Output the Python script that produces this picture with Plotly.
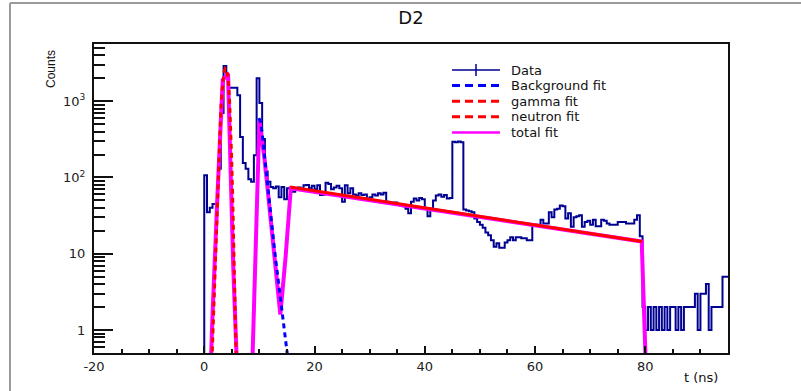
import numpy as np
import plotly.graph_objects as go

# ---------------- data ----------------
BIN_WIDTH = 0.5          # ns, histogram bin width; first bin starts at t = 0
counts = [
    107, 35, 40, 45, 45, 130, 700, 2900, 2200, 1500, 1500, 1500, 1200, 340, 155, 130, 95, 88, 195, 2000,
    950, 320, 120, 88, 75, 72, 76, 55, 75, 52, 72, 70, 65, 72, 74, 70, 79, 80, 72, 78,
    70, 79, 59, 60, 85, 82, 70, 74, 78, 72, 48, 79, 62, 72, 60, 58, 62, 59, 60, 53,
    55, 60, 58, 62, 60, 63, 48, 47, 45, 47, 44, 43, 42, 39, 34, 48, 53, 50, 54, 52,
    39, 31, 39, 50, 58, 60, 56, 59, 53, 54, 294, 290, 296, 290, 38, 37, 36, 35, 29, 26,
    24, 22, 19, 17.5, 15, 12.4, 13.7, 12, 12, 14, 15, 16.5, 15, 16.5, 16.5, 16, 16, 15, 15, 24,
    24, 24, 28, 25, 25, 35, 30, 38, 39, 43, 42, 29, 34, 22.6, 30, 31, 32, 22.6, 26, 27,
    24, 28, 23, 23, 28, 27, 25, 24, 24, 24, 26, 26, 26, 25, 25, 25, 28, 32, 17, 2,
    1, 2, 1, 2, 1, 2, 1, 2, 1, 2, 2, 1, 2, 1, 2, 2, 2, 2, 3, 1,
    3, 3, 4, 1, 2, 2, 2, 2, 5, 5,
]
ZERO_COUNT = 1e-3        # stand-in for an empty bin on the log axis

gamma_t = [1.4, 1.6, 1.8, 2.0, 2.2, 2.4, 2.6, 2.8, 3.0, 3.2, 3.4, 3.6, 3.8, 4.0, 4.2,
           4.4, 4.6, 4.8, 5.0, 5.2, 5.4, 5.6, 5.8]
gamma_v = [0.4, 1.0, 3, 10, 28, 70, 160, 380, 760, 1300, 1900, 2400, 2700, 2650, 2300,
           1700, 1000, 470, 150, 40, 9, 1.8, 0.4]

bg_t = [9.9, 10.2, 10.5, 10.8, 11.1, 11.4, 11.7, 12.0, 12.3, 12.6, 12.9, 13.2, 13.5,
        13.8, 14.1, 14.4, 14.7, 15.0, 15.3]
bg_v = [600, 540, 380, 230, 150, 100, 60, 36, 22, 14, 9, 6, 4, 2.7, 1.7, 1.1, 0.7, 0.5, 0.35]

neutron_t = [15.6, 79.4]
neutron_v = [75, 14.5]

total_t = [0.5, 1.45, 2.4, 3.35, 4.3, 5.25, 6.2, 7.15, 8.1, 9.05, 10.0, 10.95, 11.9,
           12.85, 13.8, 14.75, 15.7, 79.35, 80.3, 81.25]
total_v = [0.01, 1.3, 60, 1900, 2300, 7, 0.1, 0.001, 0.01, 3, 560, 170, 35, 9, 1.6, 9,
           72, 14.5, 0.3, 0.001]

legend_labels = ["Data", "Background fit", "gamma fit", "neutron fit", "total fit"]
x_tickvals = [-20, 0, 20, 40, 60, 80]
x_ticktext = ["-20", "0", "20", "40", "60", "80"]
y_tickvals = [1, 10, 100, 1000]
y_ticktext = ["1", "10", "10<sup>2</sup>", "10<sup>3</sup>"]

# ---------------- styles ----------------
NAVY = "#000092"
BLUE = "#0000ff"
RED = "#ff0000"
MAGENTA = "#ff00ff"
FONT = "DejaVu Sans"

W, H = 801, 391
L, R, T, B = 94, 728, 44, 353      # plot frame in pixels


def px(x):
    return (x - L) / (R - L)


def py(y):
    return (B - y) / (B - T)


counts_arr = np.array(counts, dtype=float)
t_left = np.arange(len(counts_arr)) * BIN_WIDTH
x_step = np.concatenate([[t_left[0] - BIN_WIDTH], t_left, [t_left[-1] + BIN_WIDTH]])
y_step = np.concatenate([[ZERO_COUNT], np.where(counts_arr > 0, counts_arr, ZERO_COUNT),
                         [counts_arr[-1]]])

fig = go.Figure()
fig.add_trace(go.Scatter(x=x_step, y=y_step, mode="lines",
                         line=dict(color=NAVY, width=2, shape="hv"), showlegend=False))
fig.add_trace(go.Scatter(x=total_t, y=total_v, mode="lines",
                         line=dict(color=MAGENTA, width=4), showlegend=False))
fig.add_trace(go.Scatter(x=bg_t, y=bg_v, mode="lines",
                         line=dict(color=BLUE, width=3, dash="5px,4px"), showlegend=False))
fig.add_trace(go.Scatter(x=gamma_t, y=gamma_v, mode="lines",
                         line=dict(color=RED, width=3, dash="5px,4px"), showlegend=False))
fig.add_trace(go.Scatter(x=neutron_t, y=neutron_v, mode="lines",
                         line=dict(color=RED, width=3), showlegend=False))

# ---------------- hand-drawn legend (ROOT TLegend look) ----------------
LEG_TOP, LEG_STEP = 70, 15.6
leg_y = [LEG_TOP + i * LEG_STEP for i in range(len(legend_labels))]
leg_styles = [
    dict(color=NAVY, width=1.5),
    dict(color=BLUE, width=3, dash="8px,5px"),
    dict(color=RED, width=3, dash="8px,5px"),
    dict(color=RED, width=3, dash="8px,5px"),
    dict(color=MAGENTA, width=2.5),
]
shapes = []
annotations = []
for lab, yy, st in zip(legend_labels, leg_y, leg_styles):
    shapes.append(dict(type="line", xref="paper", yref="paper",
                       x0=px(452), x1=px(500), y0=py(yy), y1=py(yy), line=st))
    annotations.append(dict(text=lab, xref="paper", yref="paper", x=px(510), y=py(yy),
                            xanchor="left", yanchor="middle", showarrow=False, borderpad=0,
                            font=dict(family=FONT, size=13, color="#111")))
# error-bar tick of the "Data" entry
shapes.append(dict(type="line", xref="paper", yref="paper", x0=px(476), x1=px(476),
                   y0=py(leg_y[0] - 6), y1=py(leg_y[0] + 6),
                   line=dict(color=NAVY, width=1.5)))

# canvas border (left and top, grey)
shapes.append(dict(type="line", xref="paper", yref="paper", x0=px(10), x1=px(10),
                   y0=py(3), y1=py(H + 5), line=dict(color="#9a9a9a", width=2)))
shapes.append(dict(type="line", xref="paper", yref="paper", x0=px(10), x1=px(W + 5),
                   y0=py(3), y1=py(3), line=dict(color="#9a9a9a", width=2)))

# axis titles
annotations.append(dict(text="Counts", xref="paper", yref="paper", x=px(51), y=py(48),
                        xanchor="center", yanchor="top", textangle=-90, showarrow=False,
                        font=dict(family="Liberation Sans", size=12, color="#111")))
annotations.append(dict(text="t (ns)", xref="paper", yref="paper", x=px(720), y=py(377),
                        xanchor="right", yanchor="middle", showarrow=False,
                        font=dict(family=FONT, size=13, color="#111")))

minor_y = [m * 10 ** e for e in range(-1, 4) for m in range(2, 10) if 0.5 <= m * 10 ** e <= 5600]

fig.update_layout(
    width=W, height=H,
    margin=dict(l=L, r=W - R, t=T, b=H - B, pad=0),
    paper_bgcolor="white", plot_bgcolor="white",
    title=dict(text="D2", x=px(411), xref="paper", xanchor="center",
               y=1 - 18 / H, yref="container", yanchor="middle",
               font=dict(family=FONT, size=18, color="#111")),
    shapes=shapes, annotations=annotations,
    showlegend=False,
    xaxis=dict(range=[-20, 95], tickmode="array", tickvals=x_tickvals, ticktext=x_ticktext,
               ticks="inside", ticklen=7,
               tickwidth=1.5, tickcolor="#111", showline=True, mirror=True, linewidth=2,
               linecolor="#111", showgrid=False, zeroline=False,
               minor=dict(tickmode="linear", tick0=0, dtick=5, ticks="inside", ticklen=4,
                          tickwidth=1.5, tickcolor="#111", showgrid=False),
               tickfont=dict(family=FONT, size=13, color="#222")),
    yaxis=dict(type="log", range=[np.log10(0.5), 3.75], tickmode="array",
               tickvals=y_tickvals, ticktext=y_ticktext, ticks="inside", ticklen=19,
               tickwidth=1.5, tickcolor="#111", showline=True, mirror=True, linewidth=2,
               linecolor="#111", showgrid=False, zeroline=False,
               minor=dict(tickmode="array", tickvals=minor_y, ticks="inside", ticklen=11,
                          tickwidth=1.5, tickcolor="#111", showgrid=False),
               ticklabelstandoff=4,
               tickfont=dict(family=FONT, size=13, color="#222")),
)

fig.write_html("out.html")
